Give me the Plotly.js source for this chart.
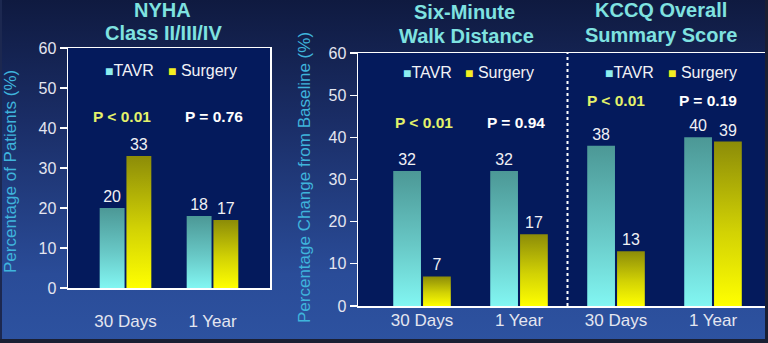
<!DOCTYPE html>
<html>
<head>
<meta charset="utf-8">
<script src="https://cdn.plot.ly/plotly-3.0.1.min.js"></script>
<style>
  html, body { margin: 0; padding: 0; }
  #frame {
    width: 768px; height: 343px; position: relative; overflow: hidden;
    background: linear-gradient(to bottom, #0f1a40 0%, #1a2d66 35%, #2a4c98 80%, #2d52a0 100%);
    box-shadow: inset -3px -4px 0 #1a1f33, inset 2px 0 0 #1c2850;
  }
  #chart { width: 768px; height: 343px; }
</style>
</head>
<body>
<svg width="0" height="0" style="position:absolute">
  <defs>
    <linearGradient id="gTavr" x1="0" y1="0" x2="0" y2="1">
      <stop offset="0" stop-color="#4c9896"/>
      <stop offset="0.55" stop-color="#68c8c6"/>
      <stop offset="1" stop-color="#82f6f2"/>
    </linearGradient>
    <linearGradient id="gSurg" x1="0" y1="0" x2="0" y2="1">
      <stop offset="0" stop-color="#8c8c08"/>
      <stop offset="0.55" stop-color="#d2d204"/>
      <stop offset="1" stop-color="#ffff00"/>
    </linearGradient>
  </defs>
</svg>
<div id="frame"><div id="chart"></div></div>
<script>
// ---- data ----
const categories = ["30 Days", "1 Year"];
const seriesNames = ["TAVR", "Surgery"];
const nyhaTavr = [20, 18];
const nyhaSurgery = [33, 17];
const walkTavr = [32, 32];
const walkSurgery = [7, 17];
const kccqTavr = [38, 40];
const kccqSurgery = [13, 39];
const nyhaP = ["P < 0.01", "P = 0.76"];
const walkP = ["P < 0.01", "P = 0.94"];
const kccqP = ["P < 0.01", "P = 0.19"];
const yTicks = [0, 10, 20, 30, 40, 50, 60];

// ---- styling ----
const W = 768, H = 343;
const px = x => x / W;
const py = y => 1 - y / H;
const FONT = '"Liberation Sans", Arial, sans-serif';
const TAVR_BASE = '#6cc8c6';
const SURG_BASE = '#c8c805';
const TICKCOL = '#e4e6f0';
const TITLECOL = '#7fe2e0';
const YTITLECOL = '#3fb4dc';
const PLOTBG = '#041a5c';

const idx = categories.map((c, i) => i);
const idxR = idx.map(i => i + categories.length);

function barTrace(x, y, name, color, xa, ya, group) {
  return {
    type: 'bar', x: x, y: y, name: name, xaxis: xa, yaxis: ya, offsetgroup: group,
    marker: { color: color, line: { width: 0 } },
    text: y.map(String), textposition: 'outside', cliponaxis: false,
    constraintext: 'none',
    textfont: { family: FONT, size: 16, color: '#f0f0f4' },
    showlegend: false, hoverinfo: 'skip'
  };
}

const data = [
  barTrace(idx, nyhaTavr, seriesNames[0], TAVR_BASE, 'x', 'y', 't'),
  barTrace(idx, nyhaSurgery, seriesNames[1], SURG_BASE, 'x', 'y', 's'),
  barTrace(idx, walkTavr, seriesNames[0], TAVR_BASE, 'x2', 'y2', 't'),
  barTrace(idx, walkSurgery, seriesNames[1], SURG_BASE, 'x2', 'y2', 's'),
  barTrace(idxR, kccqTavr, seriesNames[0], TAVR_BASE, 'x2', 'y2', 't'),
  barTrace(idxR, kccqSurgery, seriesNames[1], SURG_BASE, 'x2', 'y2', 's')
];

const yAxisCommon = {
  range: [0, 60], tickvals: yTicks, showgrid: false, zeroline: false,
  showline: true, linecolor: '#ffffff', linewidth: 1.5,
  ticks: 'outside', ticklen: 7, tickcolor: '#ffffff', tickwidth: 1.2,
  tickfont: { family: FONT, size: 16, color: TICKCOL }, fixedrange: true
};
const xAxisCommon = {
  showgrid: false, zeroline: false, showline: true, linecolor: '#ffffff', linewidth: 1.5,
  ticks: '', tickfont: { family: FONT, size: 17, color: TICKCOL }, fixedrange: true
};

const annotations = [];
function addText(x, y, text, size, color, bold, extra) {
  annotations.push(Object.assign({
    xref: 'paper', yref: 'paper', x: px(x), y: py(y), showarrow: false,
    text: bold ? '<b>' + text + '</b>' : text,
    font: { family: FONT, size: size, color: color },
    xanchor: 'center', yanchor: 'middle'
  }, extra || {}));
}
// panel titles
addText(162, 10, 'NYHA', 20, TITLECOL, true);
addText(163, 33, 'Class II/III/IV', 20, TITLECOL, true);
addText(464, 12, 'Six-Minute', 20, TITLECOL, true);
addText(466, 36, 'Walk Distance', 20, TITLECOL, true);
addText(661, 10, 'KCCQ Overall', 20, TITLECOL, true);
addText(661, 35, 'Summary Score', 20, TITLECOL, true);
// y titles
addText(10, 172, 'Percentage of Patients (%)', 17, YTITLECOL, false, { textangle: -90 });
addText(304, 178, 'Percentage Change from Baseline (%)', 17, YTITLECOL, false, { textangle: -90 });
// legends
function legendItem(x, y, name, color, gap) {
  addText(x, y,
    '<span style="font-size:14px;color:' + color + '">■</span><span style="font-size:16px">' + gap + name + '</span>',
    16, '#f2f2f6', false, { xanchor: 'left' });
}
legendItem(103, 70, seriesNames[0], '#8ceef0', '');
legendItem(166, 70, seriesNames[1], '#f4f020', ' ');
legendItem(401, 73, seriesNames[0], '#8ceef0', '');
legendItem(463, 73, seriesNames[1], '#f4f020', ' ');
legendItem(603, 73, seriesNames[0], '#8ceef0', '');
legendItem(666, 73, seriesNames[1], '#f4f020', ' ');
// p values
const PY = '#e4f26a';
function pColor(t) { return t.indexOf('<') >= 0 ? PY : '#ffffff'; }
addText(122, 117, nyhaP[0], 15.5, pColor(nyhaP[0]), true);
addText(214, 117, nyhaP[1], 15.5, pColor(nyhaP[1]), true);
addText(424, 122, walkP[0], 15.5, pColor(walkP[0]), true);
addText(516, 122, walkP[1], 15.5, pColor(walkP[1]), true);
addText(616, 100, kccqP[0], 15.5, pColor(kccqP[0]), true);
addText(708, 100, kccqP[1], 15.5, pColor(kccqP[1]), true);

const layout = {
  width: W, height: H,
  margin: { l: 0, r: 0, t: 0, b: 0 },
  paper_bgcolor: 'rgba(0,0,0,0)',
  plot_bgcolor: PLOTBG,
  barmode: 'group', bargap: 0.385, bargroupgap: 0.07,
  showlegend: false,
  xaxis: Object.assign({}, xAxisCommon, {
    domain: [px(68), px(270)], range: [-0.661, 1.661],
    tickvals: idx, ticktext: categories, mirror: true, ticklabelstandoff: 17, anchor: 'y'
  }),
  yaxis: Object.assign({}, yAxisCommon, {
    domain: [py(288), py(48)], mirror: true, anchor: 'x'
  }),
  xaxis2: Object.assign({}, xAxisCommon, {
    domain: [px(358), px(765)], range: [-0.66, 3.536],
    tickvals: idx.concat(idxR), ticktext: categories.concat(categories),
    mirror: true, ticklabelstandoff: -2, anchor: 'y2'
  }),
  yaxis2: Object.assign({}, yAxisCommon, {
    domain: [py(306), py(53)], mirror: false, anchor: 'x2'
  }),
  shapes: [{
    type: 'line', xref: 'x2', yref: 'y2', x0: 1.5, x1: 1.5, y0: 0, y1: 60,
    line: { color: '#ffffff', width: 2, dash: 'dot' }
  }],
  annotations: annotations
};

Plotly.newPlot('chart', data, layout, { staticPlot: true, displayModeBar: false }).then(gd => {
  const toRgb = hex => {
    const n = parseInt(hex.slice(1), 16);
    return 'rgb(' + (n >> 16) + ', ' + ((n >> 8) & 255) + ', ' + (n & 255) + ')';
  };
  const tRgb = toRgb(TAVR_BASE), sRgb = toRgb(SURG_BASE);
  gd.querySelectorAll('.bars .point path').forEach(p => {
    const f = p.style.fill.replace(/\s+/g, ' ');
    if (f === tRgb) p.style.fill = 'url(#gTavr)';
    else if (f === sRgb) p.style.fill = 'url(#gSurg)';
  });
});
</script>
</body>
</html>
